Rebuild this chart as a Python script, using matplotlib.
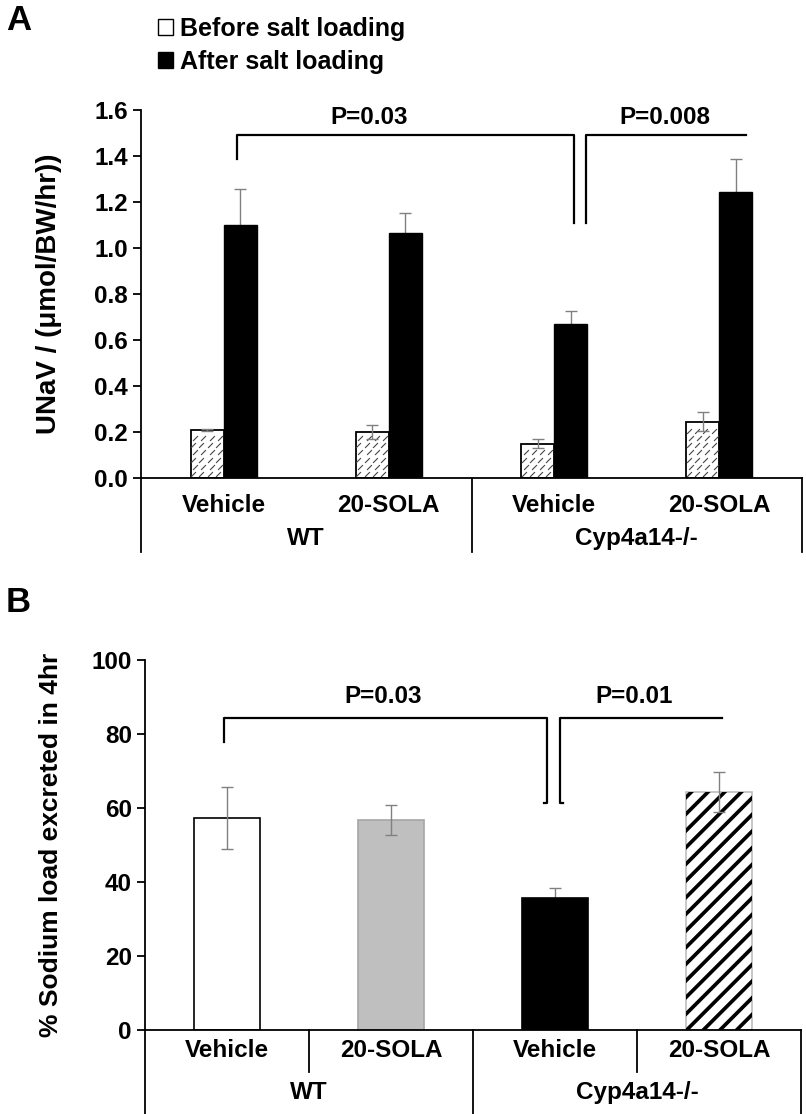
import matplotlib
matplotlib.use("Agg")
import matplotlib.pyplot as plt
import matplotlib.patches as mpatches
import matplotlib.path as mpath
import matplotlib.transforms as mtransforms
import numpy as np

plt.rcParams["font.family"] = ["Liberation Sans", "DejaVu Sans"]
plt.rcParams["font.weight"] = "bold"
plt.rcParams["axes.labelweight"] = "bold"
plt.rcParams["hatch.linewidth"] = 2.6

treatments = ["Vehicle", "20-SOLA", "Vehicle", "20-SOLA"]
genotypes = ["WT", "Cyp4a14-/-"]

# panel A: UNaV before / after salt loading
unav_before = [0.21, 0.20, 0.15, 0.245]
unav_before_err = [0.005, 0.032, 0.02, 0.04]
unav_after = [1.10, 1.065, 0.67, 1.245]
unav_after_err = [0.155, 0.088, 0.058, 0.14]

# panel B: % sodium load excreted in 4 hr
sodium_pct = [57.4, 56.8, 35.7, 64.3]
sodium_err = [8.4, 4.1, 2.6, 5.5]

pvals_a = ["P=0.03", "P=0.008"]
pvals_b = ["P=0.03", "P=0.01"]

W, H = 806, 1114
FS = 17.5
fig = plt.figure(figsize=(W / 100, H / 100), dpi=100)


def px_axes(left, top, right, bottom):
    return fig.add_axes([left / W, 1 - bottom / H, (right - left) / W, (bottom - top) / H])


def style_axes(ax):
    ax.spines["top"].set_visible(False)
    ax.spines["right"].set_visible(False)
    ax.spines["left"].set_linewidth(1.3)
    ax.spines["bottom"].set_linewidth(1.3)
    ax.set_xlim(-0.5, 3.5)
    ax.set_xticks([])
    ax.tick_params(axis="y", direction="out", length=6, width=1.3, labelsize=FS)


def category_axis(ax, label_y, group_y, short_len, long_len):
    trans = mtransforms.blended_transform_factory(ax.transData, ax.transAxes)
    for i, t in enumerate(treatments):
        ax.text(i, label_y, t, transform=trans, ha="center", va="center", fontsize=FS)
    for j, g in enumerate(genotypes):
        ax.text(2 * j + 0.5, group_y, g, transform=trans, ha="center", va="center", fontsize=FS)
    for xs in [-0.5, 1.5, 3.5]:
        ax.plot([xs, xs], [0, -long_len], transform=trans, color="black", lw=1.3, clip_on=False)
    if short_len:
        for xs in [0.5, 2.5]:
            ax.plot([xs, xs], [0, -short_len], transform=trans, color="black", lw=1.3, clip_on=False)


x = np.arange(len(treatments))

# ---------------- panel A
axA = px_axes(141, 110, 802, 478)
style_axes(axA)
axA.set_ylim(0, 1.6)
axA.set_yticks(np.arange(0, 1.61, 0.2))
axA.set_yticklabels([f"{v:.1f}" for v in np.arange(0, 1.61, 0.2)])

bw = 0.2
bars_before = axA.bar(x - bw / 2, unav_before, bw, color="white", edgecolor="black",
                      linewidth=1.3, zorder=2)
axA.bar(x + bw / 2, unav_after, bw, color="black", edgecolor="black", linewidth=1, zorder=2)

# sparse dashed diagonal fill of the "before" bars
dash = mpath.Path([(-1, -1), (1, 1)], [mpath.Path.MOVETO, mpath.Path.LINETO])
for rect in bars_before:
    x0, w, h = rect.get_x(), rect.get_width(), rect.get_height()
    xs_d, ys_d = [], []
    row = 0
    yy = 0.018
    while yy < h - 0.01:
        off = 0.5 if row % 2 else 0.0
        for k in range(4):
            xx = x0 + w * (k + 0.3 + off * 0.5) / 4
            if xx < x0 + w - 0.01:
                xs_d.append(xx)
                ys_d.append(yy)
        yy += 0.031
        row += 1
    axA.plot(xs_d, ys_d, linestyle="none", marker=dash, markersize=3.5,
             markeredgewidth=0.8, color="#444444", zorder=2.5)

axA.errorbar(x - bw / 2, unav_before, yerr=unav_before_err, fmt="none", ecolor="#808080",
             elinewidth=1, capsize=4, capthick=1, zorder=3)
axA.errorbar(x + bw / 2, unav_after, yerr=unav_after_err, fmt="none", ecolor="#808080",
             elinewidth=1, capsize=4, capthick=1, zorder=1)

axA.plot([0.08, 0.08, 2.12, 2.12], [1.385, 1.49, 1.49, 1.11], color="black", lw=1.6, clip_on=False)
axA.plot([2.19, 2.19, 3.16], [1.11, 1.49, 1.49], color="black", lw=1.6, clip_on=False)
axA.text(0.88, 1.54, pvals_a[0], ha="center", va="baseline", fontsize=FS)
axA.text(2.67, 1.54, pvals_a[1], ha="center", va="baseline", fontsize=FS)

category_axis(axA, -0.075, -0.165, 0, 0.2)
axA.set_ylabel("UNaV / (\u03bcmol/BW/hr))", fontsize=20)
axA.yaxis.set_label_coords(-0.12, 0.5)

handles = [mpatches.Patch(facecolor="white", edgecolor="black", linewidth=1),
           mpatches.Patch(facecolor="black", edgecolor="black")]
fig.legend(handles, ["Before salt loading", "After salt loading"], loc="upper left",
           bbox_to_anchor=(158 / W, 1 - 17 / H), frameon=False, fontsize=18,
           handlelength=0.6, handleheight=0.6, handletextpad=0.3, labelspacing=0.36,
           borderaxespad=0, borderpad=0)

# ---------------- panel B
axB = px_axes(145, 660, 801, 1030)
style_axes(axB)
axB.set_ylim(0, 100)
axB.set_yticks(np.arange(0, 101, 20))

bar_colors = ["white", "#bfbfbf", "black", "white"]
bar_edges = ["black", "#a6a6a6", "black", "#bfbfbf"]
bar_hatch = [None, None, None, "//"]
bw2 = 0.4
for i in range(len(treatments)):
    axB.bar(x[i], sodium_pct[i], bw2, color=bar_colors[i], edgecolor=bar_edges[i],
            hatch=bar_hatch[i], linewidth=1.2, zorder=2)
    if bar_hatch[i]:
        # draw hatch in black, keep light outline
        axB.bar(x[i], sodium_pct[i], bw2, color="none", edgecolor="black", hatch=bar_hatch[i],
                linewidth=0, zorder=2.1)
    axB.errorbar(x[i], sodium_pct[i], yerr=sodium_err[i], fmt="none", ecolor="#808080",
                 elinewidth=1, capsize=4, capthick=1, zorder=1 if bar_colors[i] == "black" else 3)

axB.plot([-0.02, -0.02, 1.95, 1.95, 1.93], [77.8, 84.3, 84.3, 61.4, 61.4], color="black", lw=1.6,
         clip_on=False)
axB.plot([2.05, 2.03, 2.03, 3.02], [61.4, 61.4, 84.3, 84.3], color="black", lw=1.6, clip_on=False)
axB.text(0.95, 88.3, pvals_b[0], ha="center", va="baseline", fontsize=FS)
axB.text(2.48, 88.3, pvals_b[1], ha="center", va="baseline", fontsize=FS)

category_axis(axB, -0.055, -0.17, 0.113, 0.23)
axB.set_ylabel("% Sodium load excreted in 4hr", fontsize=19)
axB.yaxis.set_label_coords(-0.125, 0.5)

fig.text(6 / W, 1 - 4 / H, "A", fontsize=25, va="top", ha="left")
fig.text(6 / W, 1 - 586 / H, "B", fontsize=25, va="top", ha="left")

fig.savefig("out.png", dpi=100)
